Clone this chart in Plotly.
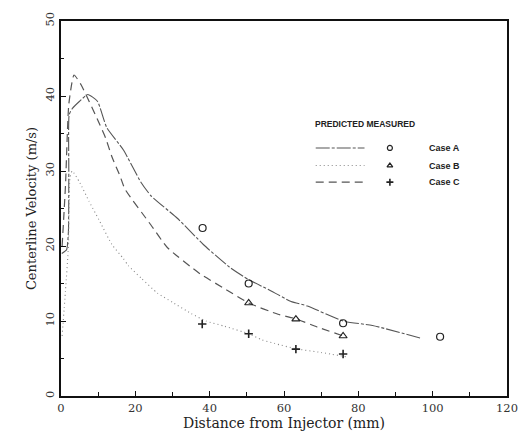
import plotly.graph_objects as go

# ---- data ----
caseA_pred_x = [0.2, 1.5, 2.0, 2.1, 2.2, 3.0, 5.0, 7.2, 9.8, 12.3, 16.8, 21.5, 24.2, 31.3, 38.3,
                45.3, 50.5, 55.8, 61.9, 66.3, 75.9, 83.8, 96.9]
caseA_pred_y = [19.0, 19.5, 22.0, 30.0, 37.5, 38.3, 39.3, 40.2, 39.3, 35.8, 32.8, 28.5, 26.7, 23.7, 20.2,
                17.2, 15.5, 14.2, 12.6, 12.0, 10.0, 9.4, 7.7]

caseB_pred_x = [0.3, 1.2, 2.1, 3.5, 5.4, 9.7, 12.0, 13.7, 15.9, 17.2, 24.2, 28.6, 37.4, 44.4, 50.5,
                58.4, 63.2, 68.9, 76.0]
caseB_pred_y = [20.0, 28.0, 38.9, 42.8, 41.5, 37.0, 34.4, 31.9, 29.3, 27.6, 22.8, 19.8, 16.3, 14.2, 12.4,
                10.9, 10.3, 9.2, 8.0]

caseC_pred_x = [0.3, 1.2, 2.0, 2.4, 3.0, 5.0, 7.5, 10.2, 13.7, 16.8, 18.1, 21.6, 26.0, 30.0, 35.0,
                39.0, 44.0, 50.5, 54.0, 57.5, 63.2, 70.0, 77.2]
caseC_pred_y = [8.0, 14.0, 20.0, 29.0, 30.0, 28.5, 26.0, 23.5, 20.2, 18.3, 17.4, 15.7, 13.7, 12.5, 11.0,
                10.0, 9.3, 8.3, 7.5, 7.0, 6.3, 5.8, 5.2]

caseA_meas_x = [38.1, 50.5, 75.9, 102.0]
caseA_meas_y = [22.4, 15.0, 9.7, 7.9]
caseB_meas_x = [50.5, 63.2, 75.9]
caseB_meas_y = [12.4, 10.25, 8.0]
caseC_meas_x = [38.0, 50.5, 63.2, 75.9]
caseC_meas_y = [9.6, 8.3, 6.25, 5.6]

legend_labels = ["Case A", "Case B", "Case C"]
legend_header = "PREDICTED MEASURED"
x_title = "Distance from Injector (mm)"
y_title = "Centerline Velocity (m/s)"

# ---- styles ----
line_styles = [
    dict(color="#555", width=1.1, dash="14px,2px,3px,2px"),
    dict(color="#888", width=1.1, dash="1px,3px"),
    dict(color="#555", width=1.2, dash="8px,5px"),
]
marker_styles = [
    dict(symbol="circle-open", size=7, color="#222", line=dict(width=1.2)),
    dict(symbol="triangle-up-open", size=7, color="#222", line=dict(width=1.2)),
    dict(symbol="cross-thin", size=6, color="#222", line=dict(width=1.6, color="#222")),
]
legend_marker_sizes = [5, 5, 5]

fig = go.Figure()

fig.add_trace(go.Scatter(x=caseA_pred_x, y=caseA_pred_y, mode="lines",
                         line=dict(line_styles[0], shape="spline", smoothing=0.5)))
fig.add_trace(go.Scatter(x=caseC_pred_x, y=caseC_pred_y, mode="lines",
                         line=dict(line_styles[1], shape="spline", smoothing=0.5)))
fig.add_trace(go.Scatter(x=caseB_pred_x, y=caseB_pred_y, mode="lines",
                         line=dict(line_styles[2], shape="spline", smoothing=0.5)))

fig.add_trace(go.Scatter(x=caseA_meas_x, y=caseA_meas_y, mode="markers", marker=marker_styles[0]))
fig.add_trace(go.Scatter(x=caseB_meas_x, y=caseB_meas_y, mode="markers", marker=marker_styles[1]))
fig.add_trace(go.Scatter(x=caseC_meas_x, y=caseC_meas_y, mode="markers", marker=marker_styles[2]))

# ---- legend block on a hidden overlay axis (0..1 coords) ----
L = 61; R = 518; T = 18; B = 402
def px(x): return (x - L) / (R - L)
def py(y): return (B - y) / (B - T)

row_y = [148, 166, 183]
for i, lab in enumerate(legend_labels):
    fig.add_shape(type="line", xref="paper", yref="paper",
                  x0=px(322), x1=px(372), y0=py(row_y[i]), y1=py(row_y[i]),
                  line=line_styles[i])
    m = dict(marker_styles[i]); m["size"] = legend_marker_sizes[i]
    fig.add_trace(go.Scatter(x=[px(398)], y=[py(row_y[i])], mode="markers",
                             marker=m, xaxis="x2", yaxis="y2"))
    fig.add_annotation(x=px(436), y=py(row_y[i]), xref="paper", yref="paper",
                       text="<b>" + lab + "</b>", showarrow=False, xanchor="left", yanchor="middle",
                       font=dict(family="Liberation Sans", size=9, color="#222"))
fig.add_annotation(x=px(319), y=py(123), xref="paper", yref="paper",
                   text="<b>" + legend_header + "</b>", showarrow=False, xanchor="left", yanchor="middle",
                   font=dict(family="Liberation Sans", size=8.5, color="#222"))

axis_common = dict(showline=True, linewidth=2, linecolor="#111", mirror=True,
                   ticks="inside", tickcolor="#111", ticklen=5, showgrid=False,
                   zeroline=False, tickfont=dict(family="DejaVu Serif", size=11.5, color="#333"))

fig.update_layout(
    width=530, height=441,
    margin=dict(l=61, r=12, t=18, b=39),
    paper_bgcolor="white", plot_bgcolor="white",
    showlegend=False,
    xaxis=dict(axis_common, range=[0, 120], tick0=0, dtick=20,
               minor=dict(dtick=10, ticks="inside", ticklen=4, tickcolor="#111"),
               title=dict(text=x_title, standoff=4,
                          font=dict(family="DejaVu Serif", size=14, color="#222"))),
    yaxis=dict(axis_common, range=[0, 50], tick0=0, dtick=10, tickangle=-90,
               minor=dict(dtick=5, ticks="inside", ticklen=3, tickcolor="#111"),
               title=dict(text=y_title, standoff=4,
                          font=dict(family="DejaVu Serif", size=13, color="#222"))),
    xaxis2=dict(range=[0, 1], overlaying="x", visible=False, fixedrange=True),
    yaxis2=dict(range=[0, 1], overlaying="y", visible=False, fixedrange=True),
)

fig.write_html("out.html")
